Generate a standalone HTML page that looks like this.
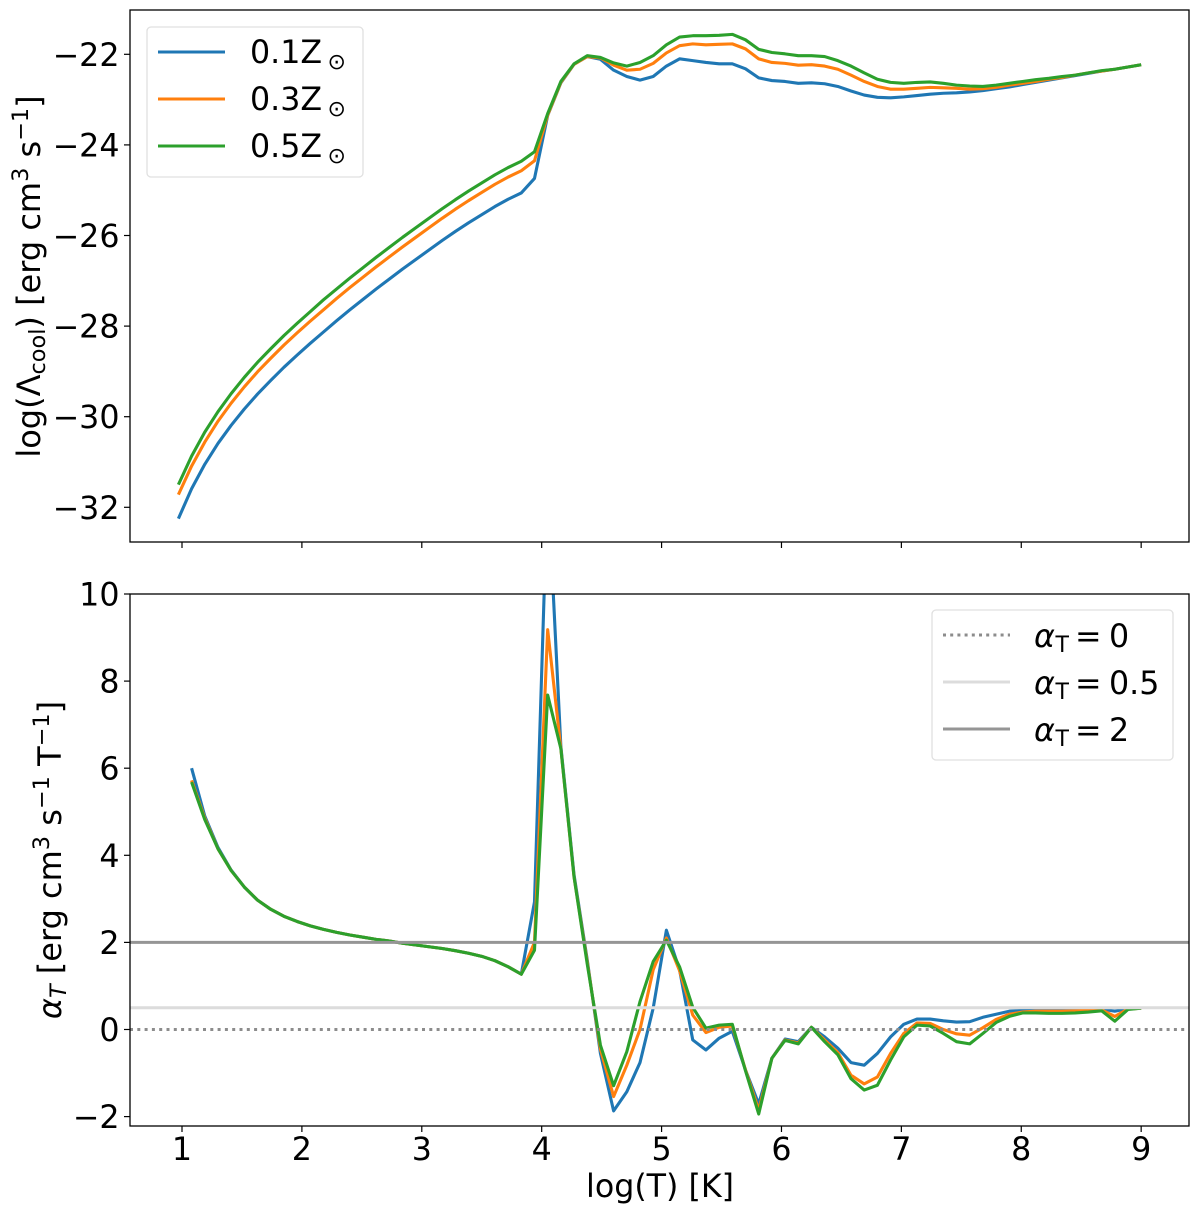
<!DOCTYPE html>
<html>
<head>
<meta charset="utf-8">
<title>Cooling function and slope</title>
<style>
html,body{margin:0;padding:0;background:#fff;}
svg{display:block;}
text{font-family:"DejaVu Sans","Liberation Sans",sans-serif;fill:#000;}
</style>
</head>
<body>
<svg id="fig" xmlns="http://www.w3.org/2000/svg" width="1200" height="1214" viewBox="0 0 1200 1214">
<defs>
<clipPath id="clip-top"><rect x="130" y="10" width="1059" height="532"/></clipPath>
<clipPath id="clip-bottom"><rect x="130" y="594" width="1059" height="532"/></clipPath>
</defs>
<rect x="130" y="10" width="1059" height="532" fill="#fff"/>
<rect x="130" y="594" width="1059" height="532" fill="#fff"/>
<g id="top-lines" clip-path="url(#clip-top)"></g>
<g id="bottom-lines" clip-path="url(#clip-bottom)"></g>
<g id="ref-lines" clip-path="url(#clip-bottom)"></g>
<g id="ticks"></g>
<rect x="130" y="10" width="1059" height="532" fill="none" stroke="#000" stroke-width="1.3"/>
<rect x="130" y="594" width="1059" height="532" fill="none" stroke="#000" stroke-width="1.3"/>

<text transform="translate(40,276.5) rotate(-90)" text-anchor="middle" font-size="32">log(Λ<tspan font-size="22.4" dy="5">cool</tspan><tspan dy="-5">) [erg cm</tspan><tspan font-size="22.4" dy="-12">3</tspan><tspan dy="12"> s</tspan><tspan font-size="22.4" dy="-12">−1</tspan><tspan dy="12">]</tspan></text>
<text transform="translate(61,860) rotate(-90)" text-anchor="middle" font-size="32"><tspan font-style="italic">α</tspan><tspan font-size="22.4" font-style="italic" dy="5">T</tspan><tspan dy="-5"> [erg cm</tspan><tspan font-size="22.4" dy="-12">3</tspan><tspan dy="12"> s</tspan><tspan font-size="22.4" dy="-12">−1</tspan><tspan dy="12"> T</tspan><tspan font-size="22.4" dy="-12">−1</tspan><tspan dy="12">]</tspan></text>
<text x="660" y="1197" text-anchor="middle" font-size="31.7">log(T) [K]</text>

<g>
<rect x="147" y="27" width="216" height="150" rx="4" fill="#fff" stroke="#e0e0e0" stroke-width="1.3"/>
<line x1="158" x2="225" y1="52" y2="52" stroke="#1f77b4" stroke-width="3.1"/>
<line x1="158" x2="225" y1="99" y2="99" stroke="#ff7f0e" stroke-width="3.1"/>
<line x1="158" x2="225" y1="146" y2="146" stroke="#2ca02c" stroke-width="3.1"/>
<text x="250" y="63" font-size="31.7">0.1Z<tspan x="327.5" y="69" font-size="22">⊙</tspan></text>
<text x="250" y="110" font-size="31.7">0.3Z<tspan x="327.5" y="116" font-size="22">⊙</tspan></text>
<text x="250" y="157" font-size="31.7">0.5Z<tspan x="327.5" y="163" font-size="22">⊙</tspan></text>
</g>

<g>
<rect x="932" y="610" width="241" height="150" rx="4" fill="#fff" stroke="#e0e0e0" stroke-width="1.3"/>
<line x1="943" x2="1010" y1="635" y2="635" stroke="#8c8c8c" stroke-width="3" stroke-dasharray="3 4.2"/>
<line x1="943" x2="1010" y1="682" y2="682" stroke="#dcdcdc" stroke-width="3"/>
<line x1="943" x2="1010" y1="729" y2="729" stroke="#959595" stroke-width="3"/>
<text y="647" font-size="31.7"><tspan x="1034" font-style="italic">α</tspan><tspan x="1055.5" y="652" font-size="22">T</tspan><tspan x="1075" y="647">=</tspan><tspan x="1109" y="647">0</tspan></text>
<text y="694" font-size="31.7"><tspan x="1034" font-style="italic">α</tspan><tspan x="1055.5" y="699" font-size="22">T</tspan><tspan x="1075" y="694">=</tspan><tspan x="1109" y="694">0.5</tspan></text>
<text y="741" font-size="31.7"><tspan x="1034" font-style="italic">α</tspan><tspan x="1055.5" y="746" font-size="22">T</tspan><tspan x="1075" y="741">=</tspan><tspan x="1109" y="741">2</tspan></text>
</g>
</svg>

<script>
var logT = [0.97,1.08,1.19,1.30,1.41,1.52,1.63,1.74,1.85,1.96,2.07,2.18,2.29,2.40,2.51,2.62,2.73,2.84,2.95,3.06,3.17,3.28,3.39,3.50,3.61,3.72,3.83,3.94,4.05,4.16,4.27,4.38,4.49,4.60,4.71,4.82,4.93,5.04,5.15,5.26,5.37,5.48,5.59,5.70,5.81,5.92,6.03,6.14,6.25,6.36,6.47,6.58,6.69,6.80,6.91,7.02,7.13,7.24,7.35,7.46,7.57,7.68,7.79,7.90,8.01,8.12,8.23,8.34,8.45,8.56,8.67,8.78,8.89,9.00];

var coolZ01 = [-32.25,-31.59,-31.05,-30.59,-30.19,-29.83,-29.50,-29.20,-28.91,-28.64,-28.38,-28.13,-27.88,-27.64,-27.41,-27.18,-26.96,-26.74,-26.53,-26.32,-26.11,-25.91,-25.72,-25.54,-25.36,-25.20,-25.06,-24.74,-23.35,-22.63,-22.22,-22.05,-22.11,-22.35,-22.49,-22.57,-22.49,-22.26,-22.10,-22.14,-22.18,-22.21,-22.21,-22.32,-22.52,-22.58,-22.60,-22.64,-22.63,-22.65,-22.71,-22.81,-22.90,-22.95,-22.96,-22.94,-22.91,-22.88,-22.86,-22.85,-22.83,-22.80,-22.76,-22.72,-22.67,-22.62,-22.57,-22.52,-22.47,-22.42,-22.37,-22.33,-22.28,-22.23];
var coolZ03 = [-31.72,-31.09,-30.56,-30.10,-29.70,-29.34,-29.01,-28.71,-28.42,-28.15,-27.89,-27.64,-27.39,-27.15,-26.92,-26.69,-26.47,-26.25,-26.04,-25.83,-25.62,-25.42,-25.23,-25.05,-24.87,-24.71,-24.57,-24.35,-23.34,-22.62,-22.22,-22.05,-22.08,-22.24,-22.35,-22.33,-22.20,-21.97,-21.81,-21.77,-21.79,-21.78,-21.77,-21.88,-22.10,-22.18,-22.20,-22.24,-22.23,-22.26,-22.33,-22.46,-22.60,-22.71,-22.77,-22.77,-22.75,-22.73,-22.74,-22.75,-22.77,-22.76,-22.73,-22.68,-22.64,-22.60,-22.55,-22.51,-22.46,-22.41,-22.37,-22.33,-22.28,-22.23];
var coolZ05 = [-31.50,-30.87,-30.34,-29.89,-29.49,-29.13,-28.80,-28.50,-28.21,-27.94,-27.68,-27.42,-27.18,-26.94,-26.71,-26.48,-26.26,-26.04,-25.83,-25.62,-25.41,-25.21,-25.02,-24.84,-24.66,-24.50,-24.36,-24.15,-23.31,-22.60,-22.21,-22.03,-22.07,-22.19,-22.26,-22.18,-22.03,-21.79,-21.62,-21.59,-21.59,-21.58,-21.56,-21.68,-21.89,-21.96,-21.99,-22.03,-22.03,-22.05,-22.14,-22.26,-22.41,-22.55,-22.62,-22.64,-22.62,-22.61,-22.64,-22.68,-22.70,-22.71,-22.68,-22.64,-22.60,-22.56,-22.53,-22.49,-22.46,-22.41,-22.36,-22.33,-22.28,-22.23];

var slopeT = [1.08,1.19,1.30,1.41,1.52,1.63,1.74,1.85,1.96,2.07,2.18,2.29,2.40,2.51,2.62,2.73,2.84,2.95,3.06,3.17,3.28,3.39,3.50,3.61,3.72,3.83,3.94,4.05,4.16,4.27,4.38,4.49,4.60,4.71,4.82,4.93,5.04,5.15,5.26,5.37,5.48,5.59,5.70,5.81,5.92,6.03,6.14,6.25,6.36,6.47,6.58,6.69,6.80,6.91,7.02,7.13,7.24,7.35,7.46,7.57,7.68,7.79,7.90,8.01,8.12,8.23,8.34,8.45,8.56,8.67,8.78,8.89,9.00];

var alphaZ01 = [6.00,4.90,4.18,3.66,3.27,2.97,2.76,2.60,2.48,2.38,2.30,2.23,2.17,2.12,2.07,2.03,1.98,1.94,1.90,1.86,1.81,1.75,1.68,1.58,1.44,1.27,2.93,12.6,6.50,3.55,1.60,-0.55,-1.87,-1.43,-0.76,0.49,2.28,1.37,-0.24,-0.47,-0.20,-0.04,-0.93,-1.71,-0.66,-0.22,-0.28,0.05,-0.17,-0.43,-0.76,-0.82,-0.55,-0.17,0.12,0.24,0.24,0.20,0.17,0.18,0.28,0.35,0.42,0.44,0.45,0.45,0.45,0.45,0.46,0.47,0.42,0.48,0.49];
var alphaZ03 = [5.72,4.85,4.15,3.65,3.27,2.97,2.76,2.60,2.48,2.38,2.30,2.23,2.17,2.12,2.07,2.03,1.98,1.94,1.90,1.86,1.81,1.75,1.68,1.58,1.44,1.27,2.00,9.18,6.45,3.50,1.55,-0.45,-1.54,-0.82,0.00,1.37,2.10,1.35,0.33,-0.07,0.05,0.08,-0.93,-1.85,-0.66,-0.24,-0.31,0.05,-0.24,-0.53,-1.05,-1.25,-1.09,-0.55,-0.09,0.15,0.14,0.00,-0.10,-0.13,0.04,0.23,0.35,0.40,0.42,0.42,0.42,0.43,0.44,0.45,0.30,0.47,0.49];
var alphaZ05 = [5.68,4.82,4.15,3.65,3.27,2.97,2.76,2.60,2.48,2.38,2.30,2.23,2.17,2.12,2.07,2.03,1.98,1.94,1.90,1.86,1.81,1.75,1.68,1.58,1.44,1.27,1.82,7.68,6.45,3.50,1.50,-0.36,-1.29,-0.51,0.64,1.56,2.05,1.44,0.51,0.03,0.10,0.12,-0.95,-1.94,-0.66,-0.25,-0.33,0.05,-0.28,-0.58,-1.13,-1.39,-1.28,-0.70,-0.17,0.10,0.08,-0.09,-0.28,-0.33,-0.09,0.16,0.30,0.38,0.38,0.37,0.37,0.38,0.40,0.43,0.19,0.46,0.49];

var xTicks = [1,2,3,4,5,6,7,8,9];
var topYTicks = [-32,-30,-28,-26,-24,-22];
var bottomYTicks = [-2,0,2,4,6,8,10];
var refLevels = [0,0.5,2];

var NS = 'http://www.w3.org/2000/svg';
var X_DOMAIN = [0.5663, 9.399], X_RANGE = [130, 1189];
var TOP_DOMAIN = [-32.766, -21.022], TOP_RANGE = [542, 10];
var BOT_DOMAIN = [-2.216, 10], BOT_RANGE = [1126, 594];

function scale(d, r, v) { return r[0] + (v - d[0]) * (r[1] - r[0]) / (d[1] - d[0]); }
function xPos(v) { return scale(X_DOMAIN, X_RANGE, v); }
function topY(v) { return scale(TOP_DOMAIN, TOP_RANGE, v); }
function botY(v) { return scale(BOT_DOMAIN, BOT_RANGE, v); }
function pathFrom(xs, ys, yf) {
  var d = '';
  for (var i = 0; i < xs.length; i++) {
    d += (i ? 'L' : 'M') + xPos(xs[i]).toFixed(2) + ' ' + yf(ys[i]).toFixed(2);
  }
  return d;
}
function fmt(v) { return v < 0 ? '\u2212' + Math.abs(v) : String(v); }

var topG = document.getElementById('top-lines');
var botG = document.getElementById('bottom-lines');
var refG = document.getElementById('ref-lines');
var tickG = document.getElementById('ticks');

function curve(parent, xs, ys, yf, color) {
  var p = document.createElementNS(NS, 'path');
  p.setAttribute('d', pathFrom(xs, ys, yf));
  p.setAttribute('fill', 'none');
  p.setAttribute('stroke', color);
  p.setAttribute('stroke-width', '3.1');
  p.setAttribute('stroke-linejoin', 'round');
  parent.appendChild(p);
  return p;
}

var c1 = curve(topG, logT, coolZ01, topY, '#1f77b4');


var c2 = curve(topG, logT, coolZ03, topY, '#ff7f0e');


var c3 = curve(topG, logT, coolZ05, topY, '#2ca02c');



var a1 = curve(botG, slopeT, alphaZ01, botY, '#1f77b4');


var a2 = curve(botG, slopeT, alphaZ03, botY, '#ff7f0e');


var a3 = curve(botG, slopeT, alphaZ05, botY, '#2ca02c');



function refLine(level, color, dash) {
  var l = document.createElementNS(NS, 'line');
  l.setAttribute('x1', X_RANGE[0]);
  l.setAttribute('x2', X_RANGE[1]);
  l.setAttribute('y1', botY(level));
  l.setAttribute('y2', botY(level));
  l.setAttribute('stroke', color);
  l.setAttribute('stroke-width', '3');
  if (dash) l.setAttribute('stroke-dasharray', dash);
  refG.appendChild(l);
  return l;
}
var r0 = refLine(refLevels[0], '#8c8c8c', '3 4.3');


var r1 = refLine(refLevels[1], '#dcdcdc', null);


var r2 = refLine(refLevels[2], '#959595', null);



function tickMark(x1, y1, x2, y2) {
  var t = document.createElementNS(NS, 'line');
  t.setAttribute('x1', x1);
  t.setAttribute('y1', y1);
  t.setAttribute('x2', x2);
  t.setAttribute('y2', y2);
  t.setAttribute('stroke', '#000');
  t.setAttribute('stroke-width', '1.2');
  tickG.appendChild(t);
  return t;
}
function tickText(x, y, anchor, str) {
  var t = document.createElementNS(NS, 'text');
  t.setAttribute('x', x);
  t.setAttribute('y', y);
  t.setAttribute('text-anchor', anchor);
  t.setAttribute('font-size', '31.7');
  t.textContent = str;
  tickG.appendChild(t);
  return t;
}

xTicks.forEach(function (v) {
  var px = xPos(v);
  var m1 = tickMark(px, 542, px, 548);
  
  
  var m2 = tickMark(px, 1126, px, 1132);
  
  
  var lab = tickText(px, 1160, 'middle', fmt(v));
  
  
});
topYTicks.forEach(function (v) {
  var py = topY(v);
  var m = tickMark(124, py, 130, py);
  
  
  var lab = tickText(119.5, py + 11.5, 'end', fmt(v));
  
  
});
bottomYTicks.forEach(function (v) {
  var py = botY(v);
  var m = tickMark(124, py, 130, py);
  
  
  var lab = tickText(119.5, py + 11.5, 'end', fmt(v));
  
  
});
</script>
</body>
</html>
